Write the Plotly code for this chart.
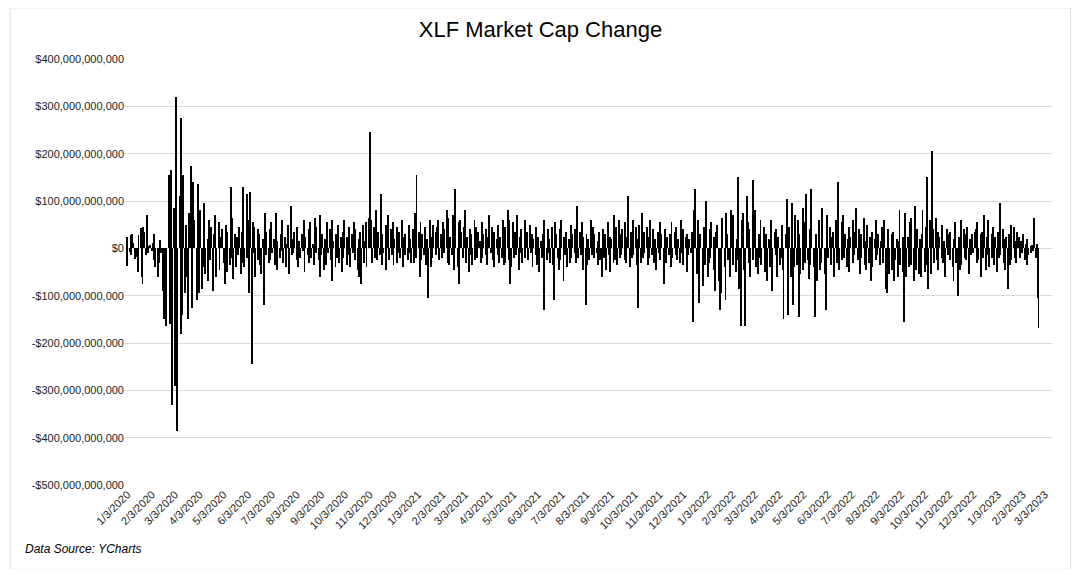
import pandas as pd
import plotly.graph_objects as go

# daily market cap change, billions of dollars
chg_bn = [
    -38,25,-8,28,-15,30,12,-22,-5,-18,-50,28,42,-60,-75,45,35,-15,70,-10,5,
    8,-5,12,-25,30,-40,-5,-60,-30,18,-10,-90,-150,-110,-140,-165,155,105,-160,165,-330,
    85,-290,320,-385,-220,110,275,-180,-140,155,-95,50,-60,-150,75,175,-125,20,140,60,-30,-110,
    135,-95,80,-85,-40,95,40,-55,20,-70,60,-25,45,-90,30,70,-60,-20,55,-45,25,
    20,40,-30,-75,50,-50,35,-35,130,-20,65,-65,30,-40,25,-15,45,-55,35,-30,130,
    -40,115,-20,60,-95,120,-245,55,-10,45,-60,40,-25,30,-35,-55,20,-120,75,-15,35,-30,
    40,-25,55,-10,20,-35,75,-45,15,-20,30,-5,60,-30,25,-40,10,50,-55,90,-15,20,
    -10,35,-25,45,-40,15,-20,30,-5,60,-50,25,-15,40,-30,55,-20,10,-35,65,-10,
    45,-25,-60,70,-15,30,-45,20,-35,55,-10,40,-25,60,-70,15,-40,30,-20,50,-30,25,
    -50,35,-20,60,-35,25,-15,45,-40,30,-10,55,-25,40,-45,20,-60,35,-75,50,-30,15,
    55,-40,65,70,245,60,-30,45,-20,80,-25,35,-15,115,-35,30,-10,50,-45,20,
    70,-25,40,-15,55,-35,20,-30,45,-10,35,-20,60,-40,25,-15,30,-25,50,-10,20,-30,
    40,-30,75,-20,155,35,-60,55,-25,30,-15,45,-35,20,-105,60,-40,25,-20,50,
    35,-15,45,60,-25,30,-20,55,-10,40,80,-30,65,-35,25,-15,70,-45,30,
    125,-40,55,-75,60,35,-20,45,80,-30,25,-50,40,-15,30,-35,60,-25,45,-20,35,15,-30,
    55,-20,30,-15,40,-35,25,70,-10,45,-25,35,-40,20,-15,50,-30,25,-20,60,-35,
    45,-30,80,-25,60,-75,-40,55,-20,35,-15,70,-45,25,-10,40,-30,60,-20,15,
    35,-25,50,-10,30,-40,20,-15,45,-35,25,-50,15,-20,30,-130,60,-25,40,-10,20,-30,
    45,-35,-110,55,30,-20,-45,40,-25,60,-70,25,-15,35,-40,20,-30,50,-20,30,-10,
    40,-30,90,-20,35,-15,55,-45,25,-120,30,-35,20,-25,60,-15,45,-20,30,-10,15,-35,
    35,-25,-60,40,-20,30,-45,55,-15,25,-50,20,-30,70,-25,45,-35,60,-20,30,-15,
    40,-25,55,-30,25,110,-40,35,-20,60,-15,45,-35,20,-125,50,-30,75,-20,35,-10,
    45,-35,25,-20,60,-15,40,-30,20,-45,35,-10,55,-25,30,-20,-75,40,-30,25,-15,
    30,-40,55,-20,35,-15,45,-25,20,-30,60,-10,40,-35,25,-50,30,-15,20,-10,35,-155,
    80,125,-55,60,-40,-115,30,-25,-80,45,-35,100,-60,-30,40,-20,55,-45,25,-90,35,
    50,-70,-130,-95,65,20,-40,-110,75,30,-25,-60,80,45,-35,70,-50,20,-25,
    150,-85,-165,60,75,-45,-165,110,55,-30,40,-60,145,-25,35,80,-40,-55,30,-20,60,-35,25,
    45,-50,30,-70,20,-40,60,-30,-90,35,-15,40,-60,25,-35,-20,50,-45,-150,30,
    105,-80,-140,45,-60,95,-120,-40,70,-35,60,-145,30,-55,85,-45,55,-30,115,-25,-65,
    40,-35,125,-40,-90,-145,30,-70,60,-45,-30,85,40,-55,-25,-130,70,-20,45,-35,25,
    35,-60,60,-30,40,140,-45,55,-25,70,-20,30,-40,20,-50,45,25,-30,60,-15,35,
    85,-25,40,-55,30,-20,65,-35,15,-45,50,-30,25,-70,35,-40,20,60,-25,-15,30,-35,15,
    45,-30,60,-85,-95,25,40,-55,30,-45,35,-70,-25,20,-60,15,80,-35,25,-50,-155,
    75,-60,25,-40,55,-35,65,-70,-30,90,-45,40,-55,20,-60,30,80,-50,45,-35,150,
    -85,60,-55,205,40,-30,65,-25,35,-45,25,-20,50,-30,15,-60,40,-15,30,-25,
    35,-40,-70,20,55,-30,-100,25,-45,60,-35,40,-20,30,-25,45,-55,20,-15,30,-10,35,
    40,-30,55,-25,30,-60,35,-20,70,-45,25,-15,60,-40,30,-20,45,-35,25,-50,
    35,-20,95,-15,40,-30,20,-45,25,-85,30,-35,50,-25,45,-20,15,-30,35,
    25,-20,15,-10,30,-25,10,-35,20,-15,5,-10,8,-5,65,-20,10,-105,-168,
]
dates = pd.bdate_range("2020-01-02", periods=len(chg_bn))
values = [v * 1e9 for v in chg_bn]

tick_dates = pd.date_range("2020-01-01", "2023-03-01", freq="MS") + pd.Timedelta(days=2)
tick_text = [f"{d.month}/{d.day}/{d.year}" for d in tick_dates]

y_ticks = [i * 1e11 for i in range(-5, 5)]
y_text = [("-$" if v < 0 else "$") + f"{abs(int(v)):,}" for v in y_ticks]

fig = go.Figure()
fig.add_trace(go.Bar(x=dates, y=values, marker=dict(color="black", line=dict(width=0)),
                     width=86400000 * 1.2))

fig.update_layout(
    title=dict(text="XLF Market Cap Change", x=0.5, y=0.962, xanchor="center", yanchor="middle",
               font=dict(family="Arial", size=22, color="black")),
    width=1065, height=561,
    margin=dict(l=117, r=21, t=51, b=84),
    plot_bgcolor="white", paper_bgcolor="white",
    showlegend=False, bargap=0,
    font=dict(family="Arial", size=11, color="#222222"),
    xaxis=dict(tickvals=tick_dates, ticktext=tick_text, tickangle=-45,
               range=["2019-12-31", "2023-03-12"], showgrid=False,
               showline=False, zeroline=False, ticks=""),
    yaxis=dict(tickvals=y_ticks, ticktext=y_text, range=[-5e11, 4e11],
               gridcolor="#d9d9d9", zeroline=True, zerolinecolor="#d9d9d9",
               zerolinewidth=1, showline=False, ticks=""),
    annotations=[dict(text="<i>Data Source: YCharts</i>", xref="paper", yref="paper",
                      x=-0.11, y=-0.13, xanchor="left", yanchor="top", showarrow=False,
                      font=dict(family="Arial", size=12, color="black"))],
    shapes=[dict(type="rect", xref="paper", yref="paper", x0=-0.124, x1=1.02,
                 y0=-0.198, y1=1.12, line=dict(color="#d9d9d9", width=1))],
)

fig.write_html("out.html")
